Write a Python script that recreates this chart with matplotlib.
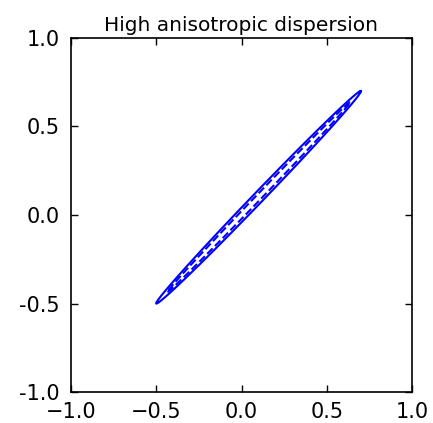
import numpy as np
import matplotlib
matplotlib.use("Agg")
import matplotlib.pyplot as plt

# ellipse params (center, semi-axes, angle in degrees)
center = (0.1, 0.1)
outer_axes = (0.849, 0.030)
inner_axes = (0.76, 0.016)
angle_deg = 45.0

xticks = [-1.0, -0.5, 0.0, 0.5, 1.0]
yticks = [-1.0, -0.5, 0.0, 0.5, 1.0]
ytick_labels = ['-1.0', '-0.5', '0.0', '0.5', '1.0']


def ellipse_xy(c, ab, ang, n=400):
    t = np.linspace(0, 2 * np.pi, n)
    a, b = ab
    th = np.deg2rad(ang)
    x = a * np.cos(t)
    y = b * np.sin(t)
    xr = c[0] + x * np.cos(th) - y * np.sin(th)
    yr = c[1] + x * np.sin(th) + y * np.cos(th)
    return xr, yr


fig = plt.figure(figsize=(4.33, 4.23), dpi=100)
ax = fig.add_axes([71 / 433, 1 - 392 / 423, 341 / 433, 354 / 423])

xo, yo = ellipse_xy(center, outer_axes, angle_deg)
xi, yi = ellipse_xy(center, inner_axes, angle_deg)
ax.plot(xo, yo, color='blue', lw=1.5)
ax.plot(xi, yi, color='blue', lw=1.5, ls='--')

ax.set_xlim(-1, 1)
ax.set_ylim(-1, 1)
ax.set_xticks(xticks)
ax.set_yticks(yticks)
ax.set_yticklabels(ytick_labels)
ax.tick_params(direction='in', length=5, width=1, top=True, right=True,
               labelsize=15)
ax.tick_params(axis='x', pad=7)
ax.tick_params(axis='y', pad=8)
for s in ax.spines.values():
    s.set_linewidth(1.2)
ax.set_title('High anisotropic dispersion', fontsize=14.5, pad=5)

fig.savefig('out.png', dpi=100)
